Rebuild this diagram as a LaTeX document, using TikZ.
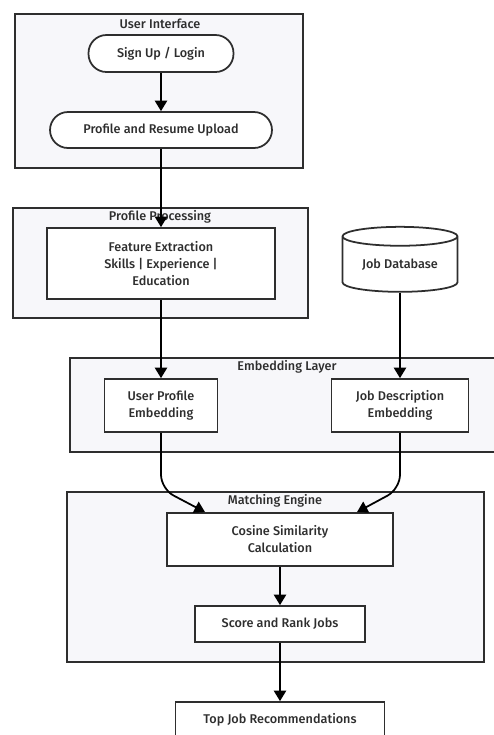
\documentclass[tikz,border=0pt]{standalone}
\usepackage{fontspec}
\setmainfont{Fira Sans}[UprightFont=* Medium]
\usetikzlibrary{arrows.meta,shapes.geometric,calc}
\definecolor{grupzemin}{HTML}{F7F7FA}
\definecolor{kenar}{HTML}{2E2E2E}
\begin{document}
\begin{tikzpicture}[x=0.02cm,y=-0.02cm,font=\fontsize{7.2}{9.7}\selectfont,text=kenar,
	grup/.style={draw=kenar,fill=grupzemin,line width=1pt},
	kutu/.style={draw=kenar,fill=white,line width=1pt,align=center,inner sep=0pt},
	ok/.style={-{Triangle[length=6pt,width=7pt]},line width=1pt,draw=black}]
	\useasboundingbox (0,0) rectangle (494,735);
	% groups
	\filldraw[grup] (15,14) rectangle (303,168);
	\filldraw[grup] (13,208) rectangle (308,318);
	\filldraw[grup] (70,358) rectangle (497,452);
	\filldraw[grup] (67,492) rectangle (484,662);
	\node (uit) at (160,24) {User Interface};
	\node (ppt) at (160,217) {Profile Processing};
	\node (elt) at (287,367) {Embedding Layer};
	\node (met) at (275,501) {Matching Engine};
	% nodes
	\node[kutu,rounded corners=0.36cm,minimum width=2.9cm,minimum height=0.74cm] (sul) at (161,53.5) {Sign Up / Login};
	\node[kutu,rounded corners=0.36cm,minimum width=4.44cm,minimum height=0.72cm] (pru) at (161,130) {Profile and Resume Upload};
	\node[kutu,minimum width=4.56cm,minimum height=1.42cm] (fe) at (161,263.5) {Feature Extraction\\Skills | Experience |\\Education};
	\node[kutu,cylinder,shape border rotate=90,aspect=0.25,minimum width=2.3cm,minimum height=1.3cm] (jdb) at (400,264.5) {Job Database};
	\node[kutu,minimum width=2.26cm,minimum height=1.06cm] (upe) at (161,405.5) {User Profile\\Embedding};
	\node[kutu,minimum width=2.74cm,minimum height=1.06cm] (jde) at (400,405.5) {Job Description\\Embedding};
	\node[kutu,minimum width=4.52cm,minimum height=1.06cm] (cos) at (280,539.5) {Cosine Similarity\\Calculation};
	\node[kutu,minimum width=3.4cm,minimum height=0.72cm] (srj) at (280,624) {Score and Rank Jobs};
	\node[kutu,minimum width=4.18cm,minimum height=0.72cm] (tjr) at (280,720) {Top Job Recommendations};
	% connectors
	\draw[ok] (sul) -- (pru);
	\draw[ok] (pru) -- (fe);
	\draw[ok] (fe) -- (upe);
	\draw[ok] (jdb) -- (jde);
	\draw[ok,rounded corners=8pt] (upe.south) -- ++(0,56) -- ([xshift=-1.5cm]cos.north);
	\draw[ok,rounded corners=8pt] (jde.south) -- ++(0,56) -- ([xshift=1.54cm]cos.north);
	\draw[ok] (cos) -- (srj);
	\draw[ok] (srj) -- (tjr);
\end{tikzpicture}
\end{document}
